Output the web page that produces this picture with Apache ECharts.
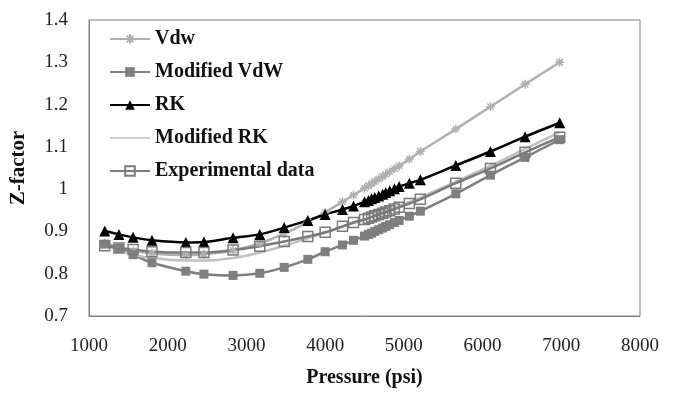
<!DOCTYPE html>
<html>
<head>
<meta charset="utf-8">
<script src="https://cdn.jsdelivr.net/npm/echarts@6/dist/echarts.min.js"></script>
<style>
  html, body { margin: 0; padding: 0; background: #fff; }
  #chart { width: 675px; height: 393px; }
</style>
</head>
<body>
<div id="chart"></div>
<script>
// pressure points (psi), shared by every series
const pressures = [1200, 1380, 1560, 1800, 2230, 2460, 2830, 3170, 3480, 3780, 4000, 4220, 4360, 4500, 4550,
  4590, 4630, 4680, 4730, 4770, 4820, 4880, 4940, 5070, 5210, 5660, 6100, 6540, 6980]

const vdw = [0.872, 0.862, 0.854, 0.848, 0.844, 0.846, 0.855, 0.872, 0.895, 0.922, 0.945, 0.970, 0.986, 1.002, 1.008,
  1.013, 1.018, 1.024, 1.030, 1.035, 1.041, 1.048, 1.055, 1.071, 1.089, 1.142, 1.195, 1.248, 1.300]

const modifiedVdw = [0.870, 0.860, 0.845, 0.826, 0.806, 0.799, 0.796, 0.801, 0.815, 0.834, 0.852, 0.868, 0.879, 0.889, 0.893,
  0.896, 0.900, 0.904, 0.908, 0.912, 0.916, 0.921, 0.926, 0.936, 0.948, 0.989, 1.033, 1.075, 1.117]

const rk = [0.901, 0.893, 0.886, 0.879, 0.874, 0.875, 0.885, 0.893, 0.909, 0.926, 0.940, 0.952, 0.960, 0.970, 0.973,
  0.977, 0.980, 0.984, 0.988, 0.992, 0.996, 1.001, 1.006, 1.014, 1.022, 1.056, 1.089, 1.124, 1.157]

const modifiedRk = [0.868, 0.856, 0.845, 0.837, 0.831, 0.831, 0.837, 0.850, 0.866, 0.884, 0.897, 0.911, 0.920, 0.929, 0.932,
  0.935, 0.938, 0.941, 0.945, 0.948, 0.951, 0.956, 0.960, 0.970, 0.980, 1.018, 1.055, 1.095, 1.135]

const experimental = [0.866, 0.861, 0.857, 0.852, 0.850, 0.850, 0.856, 0.865, 0.876, 0.888, 0.898, 0.912, 0.921, 0.928, 0.931,
  0.934, 0.937, 0.940, 0.943, 0.946, 0.949, 0.953, 0.957, 0.966, 0.976, 1.014, 1.049, 1.087, 1.123]

const xTicks = { min: 1000, max: 8000, step: 1000 }
const yTicks = { min: 0.7, max: 1.4, step: 0.1 }

const FONT = 'Liberation Serif'
const pairs = (vals) => pressures.map((p, i) => [p, vals[i]])

// 星号标记（Excel 的 * 标记）
const asterisk = 'path://M0,5L10,5M5,0L5,10M1.5,1.5L8.5,8.5M8.5,1.5L1.5,8.5'
// 图例中只画一条线（无标记），上下两个极小的点用来撑开包围盒
const plainLine = 'path://M0,0L0.01,0L0.01,0.01ZM0,5.2h40v1.6h-40zM0,12L0.01,12L0.01,11.99Z'

const chart = echarts.init(document.getElementById('chart'), null, { renderer: 'canvas' })

chart.setOption({
  animation: false,
  backgroundColor: '#fff',
  textStyle: { fontFamily: FONT },
  grid: {
    left: 83, right: 35, top: 20, bottom: 68,
    show: true, borderColor: '#808080', borderWidth: 1
  },
  legend: {
    orient: 'vertical',
    left: 104,
    top: 24,
    itemWidth: 40,
    itemHeight: 12,
    itemGap: 13,
    textStyle: { fontFamily: FONT, fontSize: 20, fontWeight: 'bold', color: '#111' },
    data: [
      'Vdw', 'Modified VdW', 'RK',
      { name: 'Modified RK', icon: plainLine, itemStyle: { color: '#c0c0c0' } },
      'Experimental data'
    ]
  },
  xAxis: {
    type: 'value',
    min: xTicks.min, max: xTicks.max, interval: xTicks.step,
    name: 'Pressure (psi)',
    nameLocation: 'middle',
    nameGap: 52,
    nameTextStyle: { fontFamily: FONT, fontSize: 20, fontWeight: 'bold', color: '#111' },
    axisLine: { show: true, lineStyle: { color: '#808080' } },
    axisTick: { show: false },
    splitLine: { show: false },
    axisLabel: { fontFamily: FONT, fontSize: 19, color: '#222', margin: 21, formatter: (v) => String(v) }
  },
  yAxis: {
    type: 'value',
    min: yTicks.min, max: yTicks.max, interval: yTicks.step,
    name: 'Z-factor',
    nameLocation: 'middle',
    nameGap: 60,
    nameTextStyle: { fontFamily: FONT, fontSize: 21, fontWeight: 'bold', color: '#111' },
    axisLine: { show: true, lineStyle: { color: '#808080' } },
    axisTick: { show: false },
    splitLine: { show: false },
    axisLabel: {
      fontFamily: FONT, fontSize: 19, color: '#222', margin: 21,
      formatter: (v) => String(Math.round(v * 10) / 10)
    }
  },
  series: [
    {
      name: 'Vdw', type: 'line', smooth: 0.3,
      data: pairs(vdw),
      symbol: asterisk, symbolSize: 9,
      lineStyle: { color: '#b0b0b0', width: 2.5 },
      itemStyle: { color: '#b0b0b0', borderColor: '#b0b0b0', borderWidth: 1.5 }
    },
    {
      name: 'Modified VdW', type: 'line', smooth: 0.3,
      data: pairs(modifiedVdw),
      symbol: 'rect', symbolSize: 9,
      lineStyle: { color: '#7f7f7f', width: 2.5 },
      itemStyle: { color: '#7f7f7f' }
    },
    {
      name: 'RK', type: 'line', smooth: 0.3,
      data: pairs(rk),
      symbol: 'triangle', symbolSize: 11,
      lineStyle: { color: '#000', width: 2.5 },
      itemStyle: { color: '#000' }
    },
    {
      name: 'Modified RK', type: 'line', smooth: 0.3,
      data: pairs(modifiedRk),
      symbol: 'none',
      lineStyle: { color: '#c0c0c0', width: 2.5 },
      itemStyle: { color: '#c0c0c0' }
    },
    {
      name: 'Experimental data', type: 'line', smooth: 0.3,
      data: pairs(experimental),
      symbol: 'rect', symbolSize: 10,
      lineStyle: { color: '#7a7a7a', width: 2.5 },
      itemStyle: { color: 'rgba(255,255,255,0)', borderColor: '#7a7a7a', borderWidth: 1.5 }
    }
  ]
})
</script>
</body>
</html>
